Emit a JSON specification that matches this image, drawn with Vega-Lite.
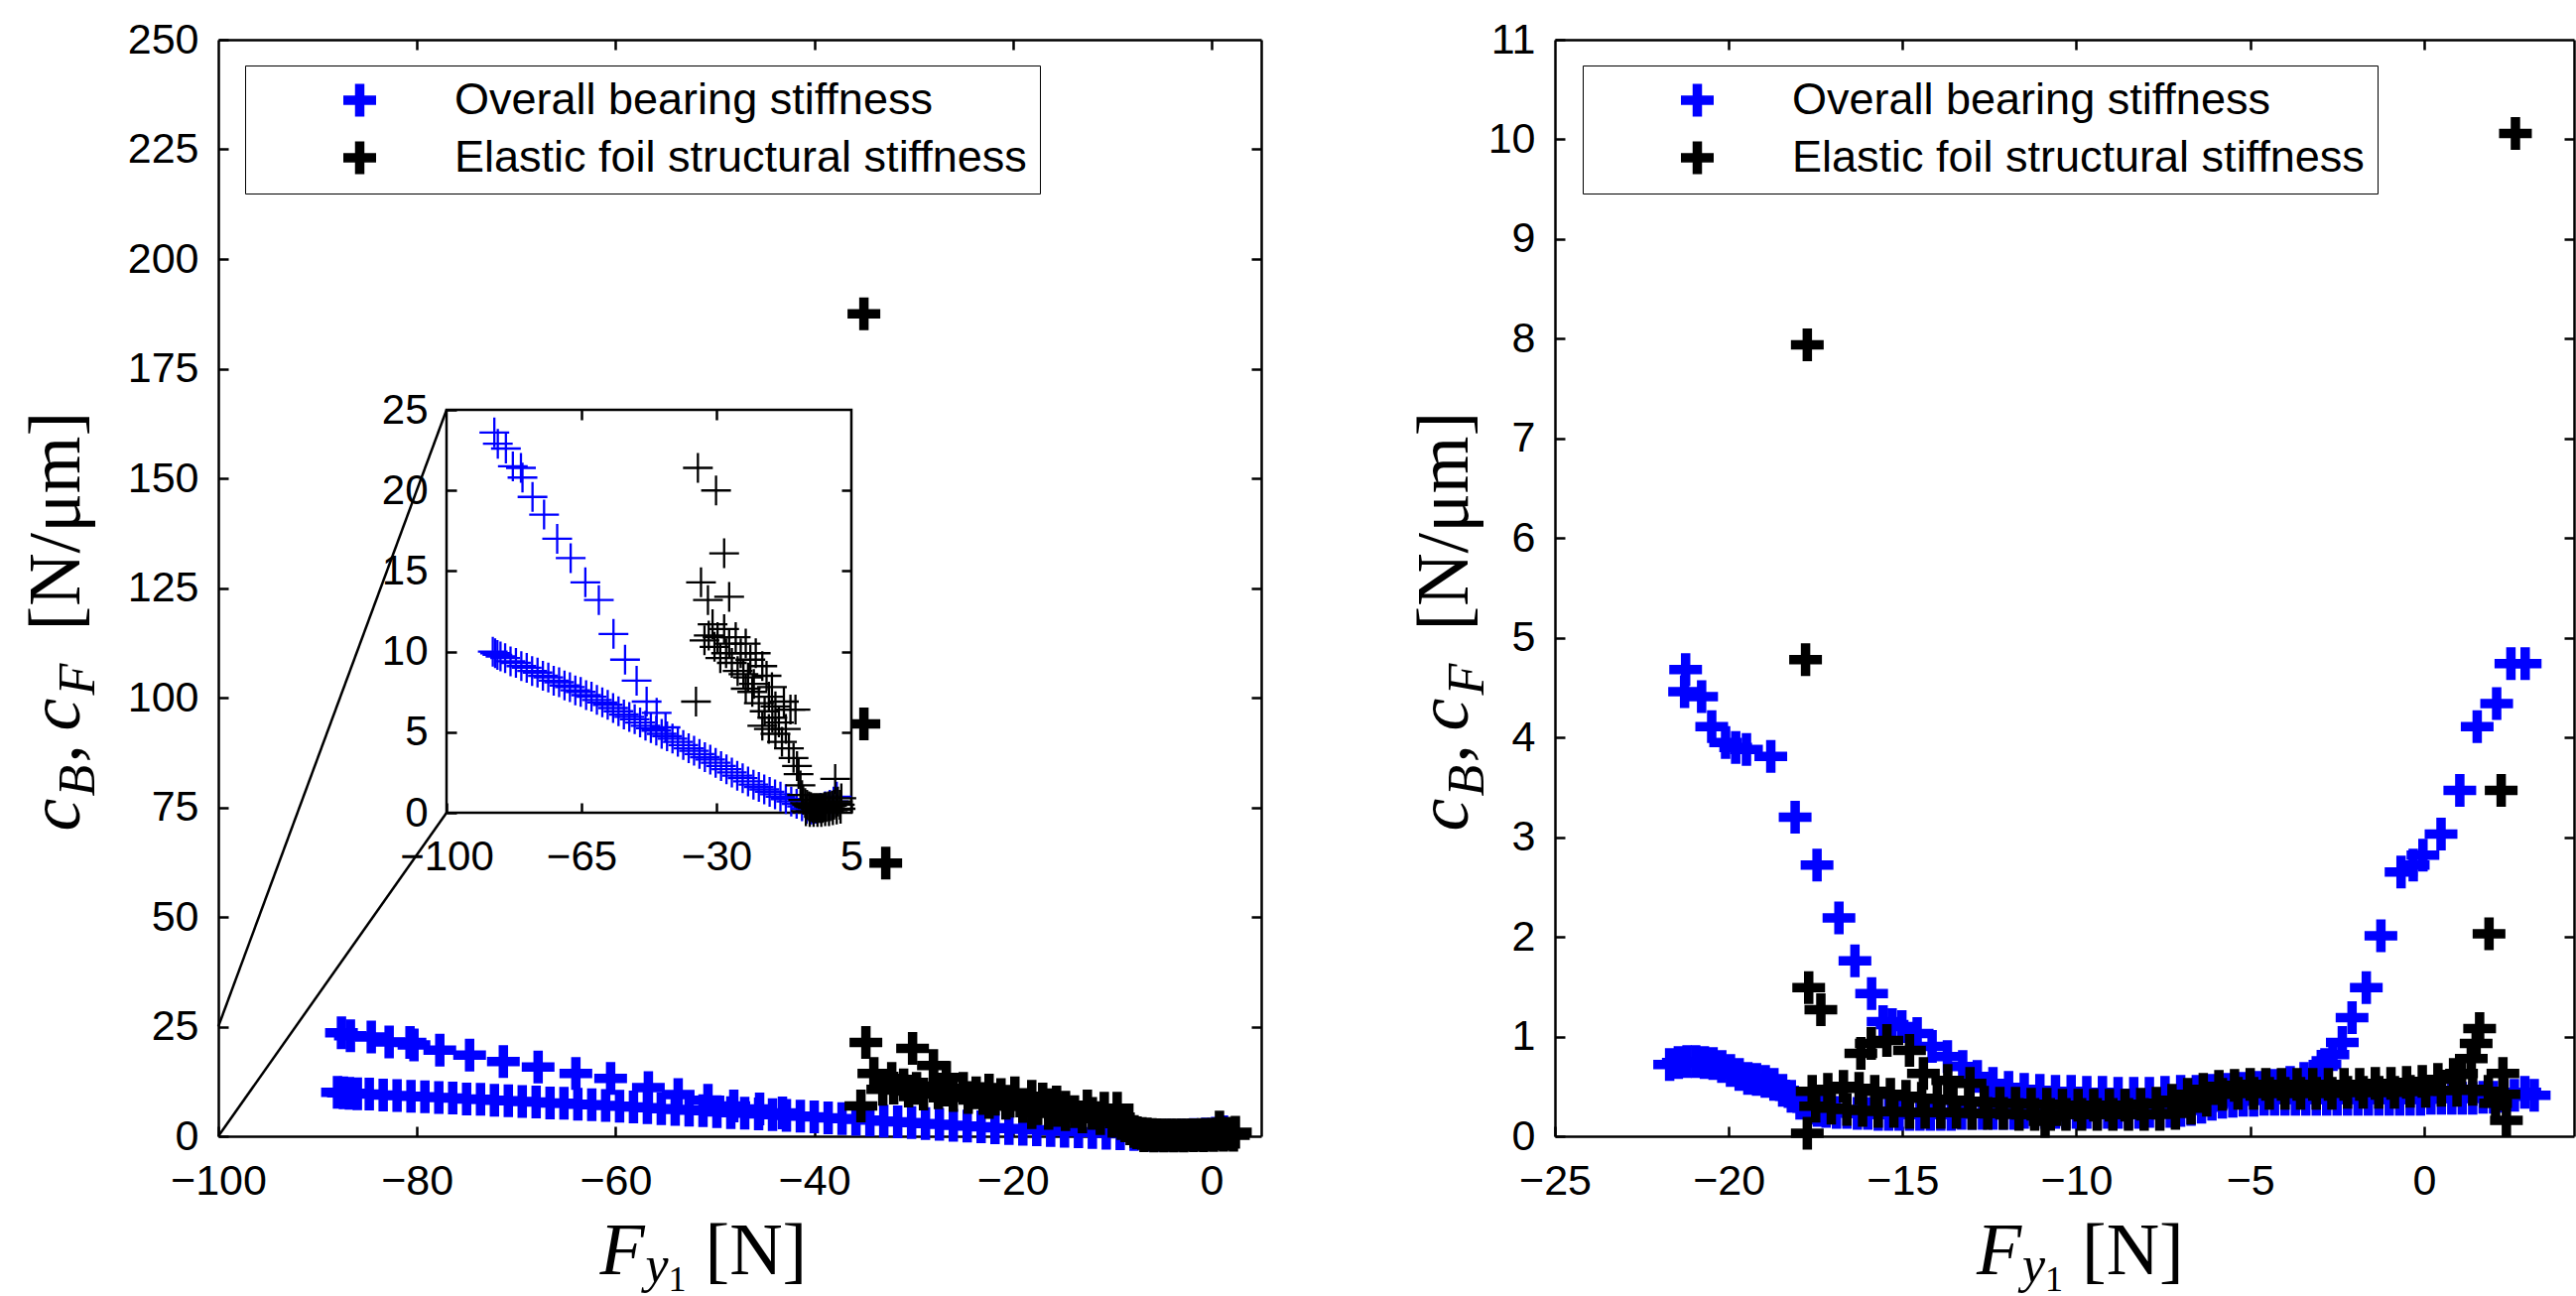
{
  "$schema": "https://vega.github.io/schema/vega-lite/v6.json",
  "autosize": {"type": "pad"},
  "padding": {"left": 20, "top": 19, "right": 0, "bottom": 0},
  "background": "white",
  "bounds": "flush",
  "spacing": 296,
  "config": {
    "view": {"stroke": null},
    "axis": {
      "domainColor": "black", "domainWidth": 2.5, "tickColor": "black", "tickWidth": 2.5, "tickSize": -10,
      "labelColor": "black", "labelFont": "Liberation Sans", "labelFontSize": 43,
      "titleColor": "black", "titleFont": "Liberation Serif", "titleFontSize": 74, "titleFontWeight": "normal", "titleFontStyle": "normal",
      "titleAlign": "left", "titleBaseline": "alphabetic",
      "grid": false, "labelFlush": false, "labelOverlap": false
    },
    "legend": {
      "orient": "none", "legendX": 27, "legendY": 26, "title": null,
      "labelFont": "Liberation Sans", "labelFontSize": 45, "labelColor": "black", "labelLimit": 2000,
      "symbolType": "M-1,0H1M0,-1V1", "symbolSize": 1089, "symbolStrokeWidth": 9.5, "symbolFillColor": "transparent",
      "strokeColor": "black", "fillColor": "white", "padding": 13, "rowPadding": 13, "clipHeight": 44, "symbolOffset": 80, "labelOffset": 73, "zindex": 2
    }
  },
  "datasets": {
    "left": [
      {"s":"Overall bearing stiffness","F":-87.6,"c":23.6},{"s":"Overall bearing stiffness","F":-86.7,"c":22.9},{"s":"Overall bearing stiffness","F":-84.6,"c":22.6},{"s":"Overall bearing stiffness","F":-82.8,"c":21.5},{"s":"Overall bearing stiffness","F":-80.7,"c":21.4},{"s":"Overall bearing stiffness","F":-80.3,"c":20.8},{"s":"Overall bearing stiffness","F":-77.7,"c":19.6},{"s":"Overall bearing stiffness","F":-74.7,"c":18.5},{"s":"Overall bearing stiffness","F":-71.3,"c":17.0},{"s":"Overall bearing stiffness","F":-67.8,"c":15.8},{"s":"Overall bearing stiffness","F":-64.0,"c":14.3},{"s":"Overall bearing stiffness","F":-60.5,"c":13.2},{"s":"Overall bearing stiffness","F":-56.7,"c":11.1},{"s":"Overall bearing stiffness","F":-53.7,"c":9.5},{"s":"Overall bearing stiffness","F":-50.7,"c":8.2},{"s":"Overall bearing stiffness","F":-48.1,"c":6.9},{"s":"Overall bearing stiffness","F":-45.5,"c":6.2},{"s":"Overall bearing stiffness","F":-43.2,"c":5.3},
      {"s":"Overall bearing stiffness","F":-88.0,"c":10.0},{"s":"Overall bearing stiffness","F":-87.4,"c":9.9},{"s":"Overall bearing stiffness","F":-86.8,"c":9.8},{"s":"Overall bearing stiffness","F":-86.0,"c":9.7},{"s":"Overall bearing stiffness","F":-84.8,"c":9.6},{"s":"Overall bearing stiffness","F":-83.4,"c":9.4},{"s":"Overall bearing stiffness","F":-82.0,"c":9.3},{"s":"Overall bearing stiffness","F":-80.6,"c":9.1},{"s":"Overall bearing stiffness","F":-79.2,"c":9.0},{"s":"Overall bearing stiffness","F":-77.8,"c":8.8},{"s":"Overall bearing stiffness","F":-76.4,"c":8.7},{"s":"Overall bearing stiffness","F":-75.0,"c":8.5},{"s":"Overall bearing stiffness","F":-73.6,"c":8.4},{"s":"Overall bearing stiffness","F":-72.2,"c":8.2},{"s":"Overall bearing stiffness","F":-70.8,"c":8.1},{"s":"Overall bearing stiffness","F":-69.4,"c":7.9},{"s":"Overall bearing stiffness","F":-68.0,"c":7.8},{"s":"Overall bearing stiffness","F":-66.6,"c":7.6},{"s":"Overall bearing stiffness","F":-65.2,"c":7.5},{"s":"Overall bearing stiffness","F":-63.8,"c":7.3},{"s":"Overall bearing stiffness","F":-62.4,"c":7.2},{"s":"Overall bearing stiffness","F":-61.0,"c":7.0},{"s":"Overall bearing stiffness","F":-59.6,"c":6.85},{"s":"Overall bearing stiffness","F":-58.2,"c":6.7},{"s":"Overall bearing stiffness","F":-56.8,"c":6.5},{"s":"Overall bearing stiffness","F":-55.4,"c":6.3},{"s":"Overall bearing stiffness","F":-54.0,"c":6.1},{"s":"Overall bearing stiffness","F":-52.6,"c":5.95},{"s":"Overall bearing stiffness","F":-51.2,"c":5.8},{"s":"Overall bearing stiffness","F":-49.8,"c":5.6},{"s":"Overall bearing stiffness","F":-48.4,"c":5.4},{"s":"Overall bearing stiffness","F":-47.0,"c":5.25},{"s":"Overall bearing stiffness","F":-45.6,"c":5.1},{"s":"Overall bearing stiffness","F":-44.2,"c":4.9},{"s":"Overall bearing stiffness","F":-42.8,"c":4.75},{"s":"Overall bearing stiffness","F":-41.4,"c":4.6},{"s":"Overall bearing stiffness","F":-40.0,"c":4.4},{"s":"Overall bearing stiffness","F":-38.6,"c":4.2},{"s":"Overall bearing stiffness","F":-37.2,"c":4.0},{"s":"Overall bearing stiffness","F":-35.8,"c":3.85},{"s":"Overall bearing stiffness","F":-34.4,"c":3.65},{"s":"Overall bearing stiffness","F":-33.0,"c":3.45},{"s":"Overall bearing stiffness","F":-31.6,"c":3.3},{"s":"Overall bearing stiffness","F":-30.2,"c":3.1},{"s":"Overall bearing stiffness","F":-28.8,"c":2.9},{"s":"Overall bearing stiffness","F":-27.4,"c":2.7},{"s":"Overall bearing stiffness","F":-26.0,"c":2.5},{"s":"Overall bearing stiffness","F":-24.6,"c":2.3},{"s":"Overall bearing stiffness","F":-23.2,"c":2.15},{"s":"Overall bearing stiffness","F":-21.8,"c":1.95},{"s":"Overall bearing stiffness","F":-20.4,"c":1.75},{"s":"Overall bearing stiffness","F":-19.0,"c":1.6},{"s":"Overall bearing stiffness","F":-17.6,"c":1.45},{"s":"Overall bearing stiffness","F":-16.2,"c":1.3},{"s":"Overall bearing stiffness","F":-14.8,"c":1.15},{"s":"Overall bearing stiffness","F":-13.4,"c":1.0},{"s":"Overall bearing stiffness","F":-12.0,"c":0.85},{"s":"Overall bearing stiffness","F":-10.6,"c":0.7},{"s":"Overall bearing stiffness","F":-9.2,"c":0.55},{"s":"Overall bearing stiffness","F":-7.8,"c":0.4},{"s":"Overall bearing stiffness","F":-6.6,"c":0.25},
      {"s":"Overall bearing stiffness","F":-5.4,"c":0.2},{"s":"Overall bearing stiffness","F":-4.2,"c":0.25},{"s":"Overall bearing stiffness","F":-3.0,"c":0.3},{"s":"Overall bearing stiffness","F":-1.8,"c":0.4},{"s":"Overall bearing stiffness","F":-0.6,"c":0.5},{"s":"Overall bearing stiffness","F":0.4,"c":0.7},{"s":"Overall bearing stiffness","F":1.2,"c":1.0},
      {"s":"Elastic foil structural stiffness","F":-35.0,"c":187.5},{"s":"Elastic foil structural stiffness","F":-35.0,"c":94.0},{"s":"Elastic foil structural stiffness","F":-32.8,"c":62.3},
      {"s":"Elastic foil structural stiffness","F":-34.8,"c":21.4},{"s":"Elastic foil structural stiffness","F":-30.1,"c":20.0},{"s":"Elastic foil structural stiffness","F":-28.0,"c":16.1},{"s":"Elastic foil structural stiffness","F":-34.0,"c":14.3},{"s":"Elastic foil structural stiffness","F":-32.2,"c":13.2},{"s":"Elastic foil structural stiffness","F":-26.7,"c":13.4},{"s":"Elastic foil structural stiffness","F":-35.3,"c":6.9},
      {"s":"Elastic foil structural stiffness","F":-33.1,"c":10.7},{"s":"Elastic foil structural stiffness","F":-32.0,"c":11.0},{"s":"Elastic foil structural stiffness","F":-31.0,"c":11.7},{"s":"Elastic foil structural stiffness","F":-30.5,"c":10.3},{"s":"Elastic foil structural stiffness","F":-29.7,"c":10.9},{"s":"Elastic foil structural stiffness","F":-29.0,"c":9.6},{"s":"Elastic foil structural stiffness","F":-28.0,"c":11.4},{"s":"Elastic foil structural stiffness","F":-27.5,"c":9.9},{"s":"Elastic foil structural stiffness","F":-26.7,"c":10.5},{"s":"Elastic foil structural stiffness","F":-26.0,"c":9.3},{"s":"Elastic foil structural stiffness","F":-25.0,"c":10.9},{"s":"Elastic foil structural stiffness","F":-24.5,"c":8.8},{"s":"Elastic foil structural stiffness","F":-23.7,"c":9.9},{"s":"Elastic foil structural stiffness","F":-23.0,"c":8.6},{"s":"Elastic foil structural stiffness","F":-22.4,"c":10.5},{"s":"Elastic foil structural stiffness","F":-22.4,"c":7.7},{"s":"Elastic foil structural stiffness","F":-21.8,"c":8.4},{"s":"Elastic foil structural stiffness","F":-21.2,"c":9.5},{"s":"Elastic foil structural stiffness","F":-20.7,"c":7.5},{"s":"Elastic foil structural stiffness","F":-20.3,"c":8.0},{"s":"Elastic foil structural stiffness","F":-19.8,"c":9.9},{"s":"Elastic foil structural stiffness","F":-19.0,"c":6.8},{"s":"Elastic foil structural stiffness","F":-18.1,"c":9.1},{"s":"Elastic foil structural stiffness","F":-18.1,"c":5.4},{"s":"Elastic foil structural stiffness","F":-17.5,"c":6.3},{"s":"Elastic foil structural stiffness","F":-17.0,"c":8.5},{"s":"Elastic foil structural stiffness","F":-16.4,"c":7.2},{"s":"Elastic foil structural stiffness","F":-16.4,"c":5.2},{"s":"Elastic foil structural stiffness","F":-15.6,"c":7.8},{"s":"Elastic foil structural stiffness","F":-15.5,"c":5.9},{"s":"Elastic foil structural stiffness","F":-14.7,"c":6.6},{"s":"Elastic foil structural stiffness","F":-14.7,"c":4.9},{"s":"Elastic foil structural stiffness","F":-13.8,"c":5.6},{"s":"Elastic foil structural stiffness","F":-13.0,"c":4.4},{"s":"Elastic foil structural stiffness","F":-12.5,"c":6.9},{"s":"Elastic foil structural stiffness","F":-12.0,"c":5.2},{"s":"Elastic foil structural stiffness","F":-11.2,"c":4.0},{"s":"Elastic foil structural stiffness","F":-10.8,"c":6.4},{"s":"Elastic foil structural stiffness","F":-10.0,"c":3.4},{"s":"Elastic foil structural stiffness","F":-9.5,"c":6.4},{"s":"Elastic foil structural stiffness","F":-9.1,"c":2.9},{"s":"Elastic foil structural stiffness","F":-8.7,"c":2.4},{"s":"Elastic foil structural stiffness","F":-8.2,"c":1.7},{"s":"Elastic foil structural stiffness","F":-7.8,"c":1.1},
      {"s":"Elastic foil structural stiffness","F":-7.5,"c":0.8},{"s":"Elastic foil structural stiffness","F":-7.0,"c":0.6},{"s":"Elastic foil structural stiffness","F":-6.5,"c":0.5},{"s":"Elastic foil structural stiffness","F":-6.0,"c":0.4},{"s":"Elastic foil structural stiffness","F":-5.5,"c":0.35},{"s":"Elastic foil structural stiffness","F":-5.0,"c":0.3},{"s":"Elastic foil structural stiffness","F":-4.5,"c":0.3},{"s":"Elastic foil structural stiffness","F":-4.0,"c":0.3},{"s":"Elastic foil structural stiffness","F":-3.5,"c":0.3},{"s":"Elastic foil structural stiffness","F":-3.0,"c":0.3},{"s":"Elastic foil structural stiffness","F":-2.5,"c":0.3},{"s":"Elastic foil structural stiffness","F":-2.0,"c":0.35},{"s":"Elastic foil structural stiffness","F":-1.5,"c":0.35},{"s":"Elastic foil structural stiffness","F":-1.0,"c":0.4},{"s":"Elastic foil structural stiffness","F":-0.5,"c":0.4},{"s":"Elastic foil structural stiffness","F":0.0,"c":0.45},{"s":"Elastic foil structural stiffness","F":0.5,"c":0.5},{"s":"Elastic foil structural stiffness","F":0.8,"c":2.1},{"s":"Elastic foil structural stiffness","F":1.0,"c":0.6},{"s":"Elastic foil structural stiffness","F":1.5,"c":0.7},{"s":"Elastic foil structural stiffness","F":2.0,"c":0.5},{"s":"Elastic foil structural stiffness","F":2.4,"c":0.9},{"s":"Elastic foil structural stiffness","F":-6.8,"c":0.1},{"s":"Elastic foil structural stiffness","F":-5.8,"c":0.05},{"s":"Elastic foil structural stiffness","F":-4.8,"c":0.05},{"s":"Elastic foil structural stiffness","F":-3.8,"c":0.05},{"s":"Elastic foil structural stiffness","F":-2.8,"c":0.05},{"s":"Elastic foil structural stiffness","F":-1.8,"c":0.1},{"s":"Elastic foil structural stiffness","F":-0.8,"c":0.1},{"s":"Elastic foil structural stiffness","F":0.2,"c":0.15},{"s":"Elastic foil structural stiffness","F":1.2,"c":0.2},{"s":"Elastic foil structural stiffness","F":2.2,"c":0.25}
    ],
    "right": [
      {"s":"Overall bearing stiffness","F":-21.24,"c":4.68},{"s":"Overall bearing stiffness","F":-21.27,"c":4.46},{"s":"Overall bearing stiffness","F":-20.78,"c":4.41},{"s":"Overall bearing stiffness","F":-20.49,"c":4.11},{"s":"Overall bearing stiffness","F":-20.09,"c":3.95},{"s":"Overall bearing stiffness","F":-19.8,"c":3.9},{"s":"Overall bearing stiffness","F":-19.49,"c":3.88},{"s":"Overall bearing stiffness","F":-18.79,"c":3.81},{"s":"Overall bearing stiffness","F":-18.09,"c":3.2},{"s":"Overall bearing stiffness","F":-17.46,"c":2.72},{"s":"Overall bearing stiffness","F":-16.83,"c":2.19},{"s":"Overall bearing stiffness","F":-16.37,"c":1.76},{"s":"Overall bearing stiffness","F":-15.89,"c":1.43},{"s":"Overall bearing stiffness","F":-15.56,"c":1.15},{"s":"Overall bearing stiffness","F":-15.3,"c":1.12},{"s":"Overall bearing stiffness","F":-15.02,"c":1.1},{"s":"Overall bearing stiffness","F":-14.58,"c":1.03},{"s":"Overall bearing stiffness","F":-14.15,"c":0.9},{"s":"Overall bearing stiffness","F":-13.71,"c":0.8},{"s":"Overall bearing stiffness","F":-13.27,"c":0.7},{"s":"Overall bearing stiffness","F":-12.85,"c":0.6},{"s":"Overall bearing stiffness","F":-12.4,"c":0.53},{"s":"Overall bearing stiffness","F":-11.95,"c":0.49},{"s":"Overall bearing stiffness","F":-11.5,"c":0.47},{"s":"Overall bearing stiffness","F":-11.05,"c":0.46},{"s":"Overall bearing stiffness","F":-10.6,"c":0.45},{"s":"Overall bearing stiffness","F":-10.15,"c":0.45},{"s":"Overall bearing stiffness","F":-9.7,"c":0.44},{"s":"Overall bearing stiffness","F":-9.25,"c":0.44},{"s":"Overall bearing stiffness","F":-8.8,"c":0.43},{"s":"Overall bearing stiffness","F":-8.35,"c":0.43},{"s":"Overall bearing stiffness","F":-7.9,"c":0.43},{"s":"Overall bearing stiffness","F":-7.45,"c":0.44},{"s":"Overall bearing stiffness","F":-7.0,"c":0.45},{"s":"Overall bearing stiffness","F":-6.55,"c":0.45},{"s":"Overall bearing stiffness","F":-6.1,"c":0.46},{"s":"Overall bearing stiffness","F":-5.65,"c":0.47},{"s":"Overall bearing stiffness","F":-5.2,"c":0.48},{"s":"Overall bearing stiffness","F":-4.75,"c":0.49},{"s":"Overall bearing stiffness","F":-4.3,"c":0.51},{"s":"Overall bearing stiffness","F":-3.85,"c":0.54},{"s":"Overall bearing stiffness","F":-3.45,"c":0.58},{"s":"Overall bearing stiffness","F":-3.1,"c":0.64},{"s":"Overall bearing stiffness","F":-2.85,"c":0.72},{"s":"Overall bearing stiffness","F":-2.62,"c":0.82},{"s":"Overall bearing stiffness","F":-2.35,"c":0.94},{"s":"Overall bearing stiffness","F":-2.07,"c":1.19},{"s":"Overall bearing stiffness","F":-1.66,"c":1.49},{"s":"Overall bearing stiffness","F":-1.24,"c":2.01},{"s":"Overall bearing stiffness","F":-0.66,"c":2.65},{"s":"Overall bearing stiffness","F":-0.31,"c":2.72},{"s":"Overall bearing stiffness","F":-0.03,"c":2.82},{"s":"Overall bearing stiffness","F":0.49,"c":3.03},{"s":"Overall bearing stiffness","F":1.03,"c":3.47},{"s":"Overall bearing stiffness","F":1.53,"c":4.11},{"s":"Overall bearing stiffness","F":2.09,"c":4.34},{"s":"Overall bearing stiffness","F":2.5,"c":4.74},{"s":"Overall bearing stiffness","F":2.91,"c":4.74},
      {"s":"Overall bearing stiffness","F":-21.7,"c":0.72},{"s":"Overall bearing stiffness","F":-21.45,"c":0.74},{"s":"Overall bearing stiffness","F":-21.2,"c":0.75},{"s":"Overall bearing stiffness","F":-20.95,"c":0.75},{"s":"Overall bearing stiffness","F":-20.7,"c":0.74},{"s":"Overall bearing stiffness","F":-20.45,"c":0.73},{"s":"Overall bearing stiffness","F":-20.2,"c":0.7},{"s":"Overall bearing stiffness","F":-19.95,"c":0.66},{"s":"Overall bearing stiffness","F":-19.7,"c":0.62},{"s":"Overall bearing stiffness","F":-19.45,"c":0.58},{"s":"Overall bearing stiffness","F":-19.2,"c":0.57},{"s":"Overall bearing stiffness","F":-18.95,"c":0.55},{"s":"Overall bearing stiffness","F":-18.7,"c":0.52},{"s":"Overall bearing stiffness","F":-18.45,"c":0.46},{"s":"Overall bearing stiffness","F":-18.2,"c":0.4},{"s":"Overall bearing stiffness","F":-17.95,"c":0.33},{"s":"Overall bearing stiffness","F":-17.7,"c":0.28},{"s":"Overall bearing stiffness","F":-17.45,"c":0.26},{"s":"Overall bearing stiffness","F":-17.2,"c":0.25},{"s":"Overall bearing stiffness","F":-16.9,"c":0.24},{"s":"Overall bearing stiffness","F":-16.6,"c":0.24},{"s":"Overall bearing stiffness","F":-16.3,"c":0.23},{"s":"Overall bearing stiffness","F":-16.0,"c":0.23},{"s":"Overall bearing stiffness","F":-15.7,"c":0.22},{"s":"Overall bearing stiffness","F":-15.4,"c":0.22},{"s":"Overall bearing stiffness","F":-15.1,"c":0.22},{"s":"Overall bearing stiffness","F":-14.8,"c":0.22},{"s":"Overall bearing stiffness","F":-14.5,"c":0.22},{"s":"Overall bearing stiffness","F":-14.2,"c":0.22},{"s":"Overall bearing stiffness","F":-13.9,"c":0.22},{"s":"Overall bearing stiffness","F":-13.6,"c":0.22},{"s":"Overall bearing stiffness","F":-13.3,"c":0.23},{"s":"Overall bearing stiffness","F":-13.0,"c":0.23},{"s":"Overall bearing stiffness","F":-12.7,"c":0.23},{"s":"Overall bearing stiffness","F":-12.4,"c":0.23},{"s":"Overall bearing stiffness","F":-12.1,"c":0.23},{"s":"Overall bearing stiffness","F":-11.8,"c":0.23},{"s":"Overall bearing stiffness","F":-11.5,"c":0.24},{"s":"Overall bearing stiffness","F":-11.2,"c":0.24},{"s":"Overall bearing stiffness","F":-10.9,"c":0.24},{"s":"Overall bearing stiffness","F":-10.6,"c":0.24},{"s":"Overall bearing stiffness","F":-10.3,"c":0.24},{"s":"Overall bearing stiffness","F":-10.0,"c":0.24},{"s":"Overall bearing stiffness","F":-9.7,"c":0.24},{"s":"Overall bearing stiffness","F":-9.4,"c":0.24},{"s":"Overall bearing stiffness","F":-9.1,"c":0.24},{"s":"Overall bearing stiffness","F":-8.8,"c":0.24},{"s":"Overall bearing stiffness","F":-8.5,"c":0.24},{"s":"Overall bearing stiffness","F":-8.2,"c":0.24},{"s":"Overall bearing stiffness","F":-7.9,"c":0.25},{"s":"Overall bearing stiffness","F":-7.6,"c":0.25},{"s":"Overall bearing stiffness","F":-7.3,"c":0.25},{"s":"Overall bearing stiffness","F":-7.0,"c":0.26},{"s":"Overall bearing stiffness","F":-6.7,"c":0.27},{"s":"Overall bearing stiffness","F":-6.4,"c":0.29},{"s":"Overall bearing stiffness","F":-6.1,"c":0.32},{"s":"Overall bearing stiffness","F":-5.8,"c":0.34},{"s":"Overall bearing stiffness","F":-5.5,"c":0.35},{"s":"Overall bearing stiffness","F":-5.2,"c":0.36},{"s":"Overall bearing stiffness","F":-4.9,"c":0.36},{"s":"Overall bearing stiffness","F":-4.6,"c":0.37},{"s":"Overall bearing stiffness","F":-4.3,"c":0.37},{"s":"Overall bearing stiffness","F":-4.0,"c":0.37},{"s":"Overall bearing stiffness","F":-3.7,"c":0.37},{"s":"Overall bearing stiffness","F":-3.4,"c":0.37},{"s":"Overall bearing stiffness","F":-3.1,"c":0.37},{"s":"Overall bearing stiffness","F":-2.8,"c":0.37},{"s":"Overall bearing stiffness","F":-2.5,"c":0.37},{"s":"Overall bearing stiffness","F":-2.2,"c":0.37},{"s":"Overall bearing stiffness","F":-1.9,"c":0.37},{"s":"Overall bearing stiffness","F":-1.6,"c":0.37},{"s":"Overall bearing stiffness","F":-1.3,"c":0.37},{"s":"Overall bearing stiffness","F":-1.0,"c":0.37},{"s":"Overall bearing stiffness","F":-0.7,"c":0.37},{"s":"Overall bearing stiffness","F":-0.4,"c":0.37},{"s":"Overall bearing stiffness","F":-0.1,"c":0.37},{"s":"Overall bearing stiffness","F":0.2,"c":0.38},{"s":"Overall bearing stiffness","F":0.5,"c":0.38},{"s":"Overall bearing stiffness","F":0.8,"c":0.38},{"s":"Overall bearing stiffness","F":1.1,"c":0.38},{"s":"Overall bearing stiffness","F":1.4,"c":0.38},{"s":"Overall bearing stiffness","F":1.7,"c":0.39},{"s":"Overall bearing stiffness","F":2.0,"c":0.39},{"s":"Overall bearing stiffness","F":2.3,"c":0.4},{"s":"Overall bearing stiffness","F":2.6,"c":0.41},{"s":"Overall bearing stiffness","F":2.9,"c":0.44},{"s":"Overall bearing stiffness","F":3.17,"c":0.41},
      {"s":"Elastic foil structural stiffness","F":-17.6,"c":0.45},{"s":"Elastic foil structural stiffness","F":-17.15,"c":0.47},{"s":"Elastic foil structural stiffness","F":-16.7,"c":0.5},{"s":"Elastic foil structural stiffness","F":-16.25,"c":0.48},{"s":"Elastic foil structural stiffness","F":-15.8,"c":0.45},{"s":"Elastic foil structural stiffness","F":-15.35,"c":0.42},{"s":"Elastic foil structural stiffness","F":-14.9,"c":0.4},{"s":"Elastic foil structural stiffness","F":-14.45,"c":0.38},{"s":"Elastic foil structural stiffness","F":-14.0,"c":0.37},{"s":"Elastic foil structural stiffness","F":-13.55,"c":0.36},{"s":"Elastic foil structural stiffness","F":-13.1,"c":0.35},{"s":"Elastic foil structural stiffness","F":-12.65,"c":0.34},{"s":"Elastic foil structural stiffness","F":-12.2,"c":0.33},{"s":"Elastic foil structural stiffness","F":-11.75,"c":0.33},{"s":"Elastic foil structural stiffness","F":-11.3,"c":0.32},{"s":"Elastic foil structural stiffness","F":-10.85,"c":0.32},{"s":"Elastic foil structural stiffness","F":-10.4,"c":0.31},{"s":"Elastic foil structural stiffness","F":-9.95,"c":0.31},{"s":"Elastic foil structural stiffness","F":-9.5,"c":0.31},{"s":"Elastic foil structural stiffness","F":-9.05,"c":0.31},{"s":"Elastic foil structural stiffness","F":-8.6,"c":0.31},{"s":"Elastic foil structural stiffness","F":-8.15,"c":0.32},{"s":"Elastic foil structural stiffness","F":-7.7,"c":0.33},{"s":"Elastic foil structural stiffness","F":-7.25,"c":0.36},{"s":"Elastic foil structural stiffness","F":-6.8,"c":0.42},{"s":"Elastic foil structural stiffness","F":-6.35,"c":0.47},{"s":"Elastic foil structural stiffness","F":-5.9,"c":0.5},{"s":"Elastic foil structural stiffness","F":-5.45,"c":0.51},{"s":"Elastic foil structural stiffness","F":-5.0,"c":0.52},{"s":"Elastic foil structural stiffness","F":-4.55,"c":0.52},{"s":"Elastic foil structural stiffness","F":-4.1,"c":0.52},{"s":"Elastic foil structural stiffness","F":-3.65,"c":0.52},{"s":"Elastic foil structural stiffness","F":-3.2,"c":0.52},{"s":"Elastic foil structural stiffness","F":-2.75,"c":0.52},{"s":"Elastic foil structural stiffness","F":-2.3,"c":0.52},{"s":"Elastic foil structural stiffness","F":-1.85,"c":0.52},{"s":"Elastic foil structural stiffness","F":-1.4,"c":0.53},{"s":"Elastic foil structural stiffness","F":-0.95,"c":0.53},{"s":"Elastic foil structural stiffness","F":-0.5,"c":0.54},{"s":"Elastic foil structural stiffness","F":-0.05,"c":0.55},{"s":"Elastic foil structural stiffness","F":0.4,"c":0.57},{"s":"Elastic foil structural stiffness","F":0.85,"c":0.62},
      {"s":"Elastic foil structural stiffness","F":-17.5,"c":0.3},{"s":"Elastic foil structural stiffness","F":-17.05,"c":0.28},{"s":"Elastic foil structural stiffness","F":-16.6,"c":0.27},{"s":"Elastic foil structural stiffness","F":-16.15,"c":0.26},{"s":"Elastic foil structural stiffness","F":-15.7,"c":0.25},{"s":"Elastic foil structural stiffness","F":-15.25,"c":0.25},{"s":"Elastic foil structural stiffness","F":-14.8,"c":0.24},{"s":"Elastic foil structural stiffness","F":-14.35,"c":0.24},{"s":"Elastic foil structural stiffness","F":-13.9,"c":0.24},{"s":"Elastic foil structural stiffness","F":-13.45,"c":0.24},{"s":"Elastic foil structural stiffness","F":-13.0,"c":0.23},{"s":"Elastic foil structural stiffness","F":-12.55,"c":0.23},{"s":"Elastic foil structural stiffness","F":-12.1,"c":0.23},{"s":"Elastic foil structural stiffness","F":-11.65,"c":0.22},{"s":"Elastic foil structural stiffness","F":-11.2,"c":0.22},{"s":"Elastic foil structural stiffness","F":-10.9,"c":0.15},{"s":"Elastic foil structural stiffness","F":-10.75,"c":0.22},{"s":"Elastic foil structural stiffness","F":-10.3,"c":0.22},{"s":"Elastic foil structural stiffness","F":-9.85,"c":0.22},{"s":"Elastic foil structural stiffness","F":-9.4,"c":0.22},{"s":"Elastic foil structural stiffness","F":-8.95,"c":0.22},{"s":"Elastic foil structural stiffness","F":-8.5,"c":0.22},{"s":"Elastic foil structural stiffness","F":-8.05,"c":0.22},{"s":"Elastic foil structural stiffness","F":-7.6,"c":0.22},{"s":"Elastic foil structural stiffness","F":-7.15,"c":0.23},{"s":"Elastic foil structural stiffness","F":-6.7,"c":0.28},{"s":"Elastic foil structural stiffness","F":-6.25,"c":0.36},{"s":"Elastic foil structural stiffness","F":-5.8,"c":0.42},{"s":"Elastic foil structural stiffness","F":-5.35,"c":0.43},{"s":"Elastic foil structural stiffness","F":-4.9,"c":0.43},{"s":"Elastic foil structural stiffness","F":-4.45,"c":0.43},{"s":"Elastic foil structural stiffness","F":-4.0,"c":0.43},{"s":"Elastic foil structural stiffness","F":-3.55,"c":0.43},{"s":"Elastic foil structural stiffness","F":-3.1,"c":0.43},{"s":"Elastic foil structural stiffness","F":-2.65,"c":0.43},{"s":"Elastic foil structural stiffness","F":-2.2,"c":0.44},{"s":"Elastic foil structural stiffness","F":-1.75,"c":0.44},{"s":"Elastic foil structural stiffness","F":-1.3,"c":0.44},{"s":"Elastic foil structural stiffness","F":-0.85,"c":0.44},{"s":"Elastic foil structural stiffness","F":-0.4,"c":0.45},{"s":"Elastic foil structural stiffness","F":0.05,"c":0.45},{"s":"Elastic foil structural stiffness","F":0.5,"c":0.46},{"s":"Elastic foil structural stiffness","F":0.95,"c":0.46},{"s":"Elastic foil structural stiffness","F":1.4,"c":0.47},{"s":"Elastic foil structural stiffness","F":1.85,"c":0.45},{"s":"Elastic foil structural stiffness","F":2.3,"c":0.42},
      {"s":"Elastic foil structural stiffness","F":-16.2,"c":0.83},{"s":"Elastic foil structural stiffness","F":-15.9,"c":0.93},{"s":"Elastic foil structural stiffness","F":-15.45,"c":0.96},{"s":"Elastic foil structural stiffness","F":-14.8,"c":0.86},{"s":"Elastic foil structural stiffness","F":-14.4,"c":0.63},{"s":"Elastic foil structural stiffness","F":-13.7,"c":0.56},{"s":"Elastic foil structural stiffness","F":-13.06,"c":0.53},
      {"s":"Elastic foil structural stiffness","F":1.08,"c":0.63},{"s":"Elastic foil structural stiffness","F":1.36,"c":0.78},{"s":"Elastic foil structural stiffness","F":1.5,"c":0.93},{"s":"Elastic foil structural stiffness","F":1.6,"c":1.08},{"s":"Elastic foil structural stiffness","F":2.27,"c":0.63},{"s":"Elastic foil structural stiffness","F":2.06,"c":0.33},{"s":"Elastic foil structural stiffness","F":2.37,"c":0.16},
      {"s":"Elastic foil structural stiffness","F":-17.7,"c":1.49},{"s":"Elastic foil structural stiffness","F":-17.35,"c":1.27},{"s":"Elastic foil structural stiffness","F":-17.74,"c":0.03},{"s":"Elastic foil structural stiffness","F":1.87,"c":2.03},{"s":"Elastic foil structural stiffness","F":2.22,"c":3.47},{"s":"Elastic foil structural stiffness","F":-17.79,"c":4.78},{"s":"Elastic foil structural stiffness","F":-17.74,"c":7.94},{"s":"Elastic foil structural stiffness","F":2.63,"c":10.06}
    ],
    "zoom": [{"F":-100,"c":25,"F2":-77.02,"c2":165.6},{"F":-100,"c":0,"F2":-77.02,"c2":73.76}],
    "frame": [{"F":-100,"F2":5,"c":0,"c2":25}]
  },
  "hconcat": [
    {
      "width": 1051, "height": 1105,
      "layer": [
        {
          "layer": [
            {
              "data": {"name": "left"},
              "mark": {"type": "point", "shape": "M-1,0H1M0,-1V1", "filled": false, "strokeWidth": 9.5, "size": 1089, "opacity": 1},
              "encoding": {
                "x": {"field": "F", "type": "quantitative", "scale": {"domain": [-100, 5], "nice": false, "zero": false},
                      "axis": {"orient": "bottom", "values": [-100, -80, -60, -40, -20, 0], "labelPadding": 34, "title": "F", "titleFontStyle": "italic", "titleX": 384, "titleY": 138}},
                "y": {"field": "c", "type": "quantitative", "scale": {"domain": [0, 250], "nice": false, "zero": false},
                      "axis": {"orient": "left", "values": [0, 25, 50, 75, 100, 125, 150, 175, 200, 225, 250], "labelPadding": 30, "title": "c", "titleFontStyle": "italic", "titleX": -141, "titleY": 797, "titleAngle": -90}},
                "color": {"field": "s", "type": "nominal",
                          "scale": {"domain": ["Overall bearing stiffness", "Elastic foil structural stiffness"], "range": ["#0000ff", "#000000"]},
                          "legend": {}}
              }
            },
            {
              "data": {"name": "zoom"},
              "mark": {"type": "rule", "color": "black", "strokeWidth": 2.5},
              "encoding": {
                "x": {"field": "F", "type": "quantitative", "scale": {"domain": [-100, 5], "nice": false, "zero": false},
                      "axis": {"orient": "top", "values": [-80, -60, -40, -20, 0], "labels": false, "title": "[N]", "titleX": 490, "titleY": 1243}},
                "x2": {"field": "F2"},
                "y": {"field": "c", "type": "quantitative", "scale": {"domain": [0, 250], "nice": false, "zero": false},
                      "axis": {"orient": "right", "values": [25, 50, 75, 100, 125, 150, 175, 200, 225], "labels": false, "title": "[N/μm]", "titleX": -1192, "titleY": 595, "titleAngle": -90}},
                "y2": {"field": "c2"}
              }
            },
            {
              "data": {"name": "zoom"},
              "mark": {"type": "point", "opacity": 0},
              "encoding": {
                "x": {"field": "F", "type": "quantitative", "scale": {"domain": [-100, 5], "nice": false, "zero": false},
                      "axis": {"orient": "bottom", "domain": false, "ticks": false, "labels": false, "title": "y", "titleFontStyle": "italic", "titleFontSize": 52, "titleX": 430, "titleY": 146}},
                "y": {"field": "c", "type": "quantitative", "scale": {"domain": [0, 250], "nice": false, "zero": false},
                      "axis": {"orient": "left", "domain": false, "ticks": false, "labels": false, "title": "B", "titleFontStyle": "italic", "titleFontSize": 52, "titleX": -126, "titleY": 762, "titleAngle": -90}}
              }
            },
            {
              "data": {"name": "zoom"},
              "mark": {"type": "point", "opacity": 0},
              "encoding": {
                "x": {"field": "F", "type": "quantitative", "scale": {"domain": [-100, 5], "nice": false, "zero": false},
                      "axis": {"orient": "bottom", "domain": false, "ticks": false, "labels": false, "title": "1", "titleFontSize": 36, "titleX": 453, "titleY": 155}},
                "y": {"field": "c", "type": "quantitative", "scale": {"domain": [0, 250], "nice": false, "zero": false},
                      "axis": {"orient": "left", "domain": false, "ticks": false, "labels": false, "title": ",", "titleX": -141, "titleY": 728, "titleAngle": -90}}
              }
            },
            {
              "data": {"name": "zoom"},
              "mark": {"type": "point", "opacity": 0},
              "encoding": {
                "x": {"field": "F", "type": "quantitative", "scale": {"domain": [-100, 5], "nice": false, "zero": false}, "axis": null},
                "y": {"field": "c", "type": "quantitative", "scale": {"domain": [0, 250], "nice": false, "zero": false},
                      "axis": {"orient": "left", "domain": false, "ticks": false, "labels": false, "title": "c", "titleFontStyle": "italic", "titleX": -141, "titleY": 696, "titleAngle": -90}}
              }
            },
            {
              "data": {"name": "zoom"},
              "mark": {"type": "point", "opacity": 0},
              "encoding": {
                "x": {"field": "F", "type": "quantitative", "scale": {"domain": [-100, 5], "nice": false, "zero": false}, "axis": null},
                "y": {"field": "c", "type": "quantitative", "scale": {"domain": [0, 250], "nice": false, "zero": false},
                      "axis": {"orient": "left", "domain": false, "ticks": false, "labels": false, "title": "F", "titleFontStyle": "italic", "titleFontSize": 52, "titleX": -126, "titleY": 660, "titleAngle": -90}}
              }
            }
          ],
          "resolve": {"axis": {"x": "independent", "y": "independent"}}
        },
        {
          "layer": [
            {
              "data": {"name": "frame"},
              "mark": {"type": "rect", "fill": "white", "stroke": "black", "strokeWidth": 2.5},
              "encoding": {
                "x": {"field": "F", "type": "quantitative", "scale": {"domain": [-159.19, 111.29], "nice": false, "zero": false},
                      "axis": {"orient": "bottom", "offset": -326, "values": [-100, -65, -30, 5], "domain": false, "labelFontSize": 42, "labelPadding": 34, "title": null, "zindex": 1}},
                "x2": {"field": "F2"},
                "y": {"field": "c", "type": "quantitative", "scale": {"domain": [-20.07, 47.97], "nice": false, "zero": false},
                      "axis": {"orient": "left", "offset": -230, "values": [0, 5, 10, 15, 20, 25], "domain": false, "labelFontSize": 42, "labelPadding": 29, "title": null, "zindex": 1}},
                "y2": {"field": "c2"}
              }
            },
            {
              "data": {"name": "left"},
              "transform": [{"filter": "datum.c <= 25.5"}],
              "mark": {"type": "point", "shape": "M-1,0H1M0,-1V1", "filled": false, "strokeWidth": 2.3, "size": 900, "opacity": 1},
              "encoding": {
                "x": {"field": "F", "type": "quantitative", "scale": {"domain": [-159.19, 111.29], "nice": false, "zero": false},
                      "axis": {"orient": "top", "offset": -373, "values": [-65, -30], "domain": false, "labels": false, "title": null, "zindex": 1}},
                "y": {"field": "c", "type": "quantitative", "scale": {"domain": [-20.07, 47.97], "nice": false, "zero": false},
                      "axis": {"orient": "right", "offset": -413, "values": [5, 10, 15, 20], "domain": false, "labels": false, "title": null, "zindex": 1}},
                "color": {"field": "s", "type": "nominal",
                          "scale": {"domain": ["Overall bearing stiffness", "Elastic foil structural stiffness"], "range": ["#0000ff", "#000000"]}}
              }
            }
          ],
          "resolve": {"axis": {"x": "independent", "y": "independent"}}
        }
      ],
      "resolve": {"scale": {"x": "independent", "y": "independent"}, "axis": {"x": "independent", "y": "independent"}}
    },
    {
      "width": 1027, "height": 1105,
      "layer": [
        {
          "data": {"name": "right"},
          "mark": {"type": "point", "shape": "M-1,0H1M0,-1V1", "filled": false, "strokeWidth": 9.5, "size": 1089, "opacity": 1},
          "encoding": {
            "x": {"field": "F", "type": "quantitative", "scale": {"domain": [-25, 4.315], "nice": false, "zero": false},
                  "axis": {"orient": "bottom", "values": [-25, -20, -15, -10, -5, 0], "labelPadding": 34, "title": "F", "titleFontStyle": "italic", "titleX": 424.5, "titleY": 138}},
            "y": {"field": "c", "type": "quantitative", "scale": {"domain": [0, 11], "nice": false, "zero": false},
                  "axis": {"orient": "left", "values": [0, 1, 2, 3, 4, 5, 6, 7, 8, 9, 10, 11], "labelPadding": 30, "title": "c", "titleFontStyle": "italic", "titleX": -89, "titleY": 797, "titleAngle": -90}},
            "color": {"field": "s", "type": "nominal",
                      "scale": {"domain": ["Overall bearing stiffness", "Elastic foil structural stiffness"], "range": ["#0000ff", "#000000"]},
                      "legend": {"legendX": 28}}
          }
        },
        {
          "data": {"name": "right"},
          "transform": [{"filter": "datum.c > 10"}],
          "mark": {"type": "point", "opacity": 0},
          "encoding": {
            "x": {"field": "F", "type": "quantitative", "scale": {"domain": [-25, 4.315], "nice": false, "zero": false},
                  "axis": {"orient": "top", "values": [-20, -15, -10, -5, 0], "labels": false, "title": "[N]", "titleX": 530.5, "titleY": 1243}},
            "y": {"field": "c", "type": "quantitative", "scale": {"domain": [0, 11], "nice": false, "zero": false},
                  "axis": {"orient": "right", "values": [1, 2, 3, 4, 5, 6, 7, 8, 9, 10], "labels": false, "title": "[N/μm]", "titleX": -1116, "titleY": 595, "titleAngle": -90}}
          }
        },
        {
          "data": {"name": "right"},
          "transform": [{"filter": "datum.c > 10"}],
          "mark": {"type": "point", "opacity": 0},
          "encoding": {
            "x": {"field": "F", "type": "quantitative", "scale": {"domain": [-25, 4.315], "nice": false, "zero": false},
                  "axis": {"orient": "bottom", "domain": false, "ticks": false, "labels": false, "title": "y", "titleFontStyle": "italic", "titleFontSize": 52, "titleX": 470.5, "titleY": 146}},
            "y": {"field": "c", "type": "quantitative", "scale": {"domain": [0, 11], "nice": false, "zero": false},
                  "axis": {"orient": "left", "domain": false, "ticks": false, "labels": false, "title": "B", "titleFontStyle": "italic", "titleFontSize": 52, "titleX": -73, "titleY": 762, "titleAngle": -90}}
          }
        },
        {
          "data": {"name": "right"},
          "transform": [{"filter": "datum.c > 10"}],
          "mark": {"type": "point", "opacity": 0},
          "encoding": {
            "x": {"field": "F", "type": "quantitative", "scale": {"domain": [-25, 4.315], "nice": false, "zero": false},
                  "axis": {"orient": "bottom", "domain": false, "ticks": false, "labels": false, "title": "1", "titleFontSize": 36, "titleX": 493.5, "titleY": 155}},
            "y": {"field": "c", "type": "quantitative", "scale": {"domain": [0, 11], "nice": false, "zero": false},
                  "axis": {"orient": "left", "domain": false, "ticks": false, "labels": false, "title": ",", "titleX": -89, "titleY": 728, "titleAngle": -90}}
          }
        },
        {
          "data": {"name": "right"},
          "transform": [{"filter": "datum.c > 10"}],
          "mark": {"type": "point", "opacity": 0},
          "encoding": {
            "x": {"field": "F", "type": "quantitative", "scale": {"domain": [-25, 4.315], "nice": false, "zero": false}, "axis": null},
            "y": {"field": "c", "type": "quantitative", "scale": {"domain": [0, 11], "nice": false, "zero": false},
                  "axis": {"orient": "left", "domain": false, "ticks": false, "labels": false, "title": "c", "titleFontStyle": "italic", "titleX": -89, "titleY": 696, "titleAngle": -90}}
          }
        },
        {
          "data": {"name": "right"},
          "transform": [{"filter": "datum.c > 10"}],
          "mark": {"type": "point", "opacity": 0},
          "encoding": {
            "x": {"field": "F", "type": "quantitative", "scale": {"domain": [-25, 4.315], "nice": false, "zero": false}, "axis": null},
            "y": {"field": "c", "type": "quantitative", "scale": {"domain": [0, 11], "nice": false, "zero": false},
                  "axis": {"orient": "left", "domain": false, "ticks": false, "labels": false, "title": "F", "titleFontStyle": "italic", "titleFontSize": 52, "titleX": -73, "titleY": 660, "titleAngle": -90}}
          }
        }
      ],
      "resolve": {"axis": {"x": "independent", "y": "independent"}}
    }
  ],
  "resolve": {"scale": {"color": "independent"}, "legend": {"color": "independent"}}
}
